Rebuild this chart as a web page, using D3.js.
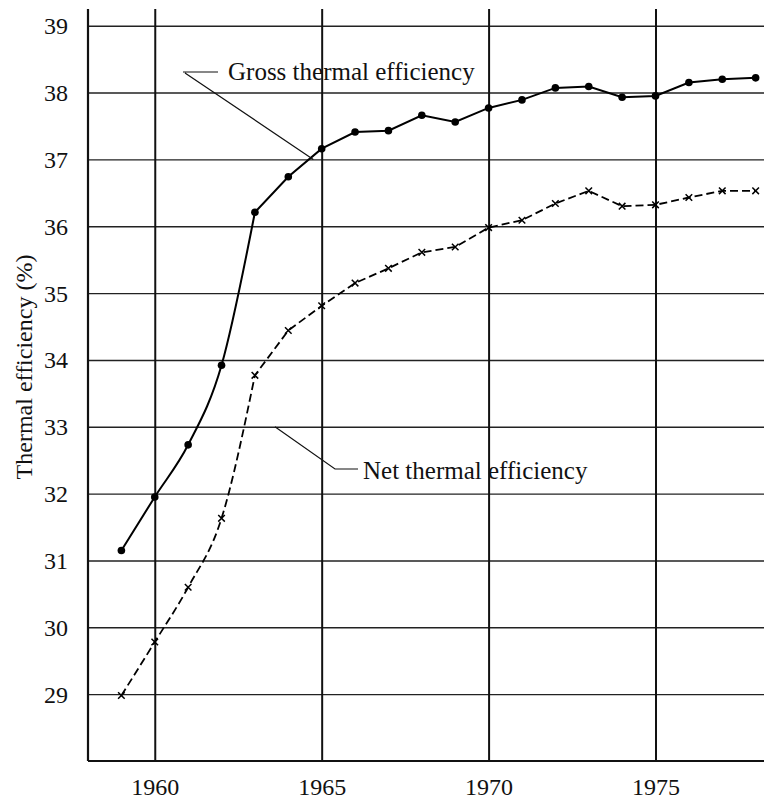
<!DOCTYPE html>
<html>
<head>
<meta charset="utf-8">
<script src="https://cdn.jsdelivr.net/npm/d3@7"></script>
<style>
  body { margin: 0; background: #fff; }
  svg { display: block; font-family: "Liberation Serif", "DejaVu Serif", serif; }
  svg text { font-family: "Liberation Serif", "DejaVu Serif", serif !important; }
  .tick text { fill: #111; }
</style>
</head>
<body>
<svg id="chart" width="764" height="802"></svg>
<script>
const years = [1959, 1960, 1961, 1962, 1963, 1964, 1965, 1966, 1967, 1968,
  1969, 1970, 1971, 1972, 1973, 1974, 1975, 1976, 1977, 1978];
const gross = [31.15, 31.95, 32.73, 33.92, 36.21, 36.74, 37.16, 37.41, 37.43, 37.66,
  37.56, 37.77, 37.89, 38.07, 38.09, 37.93, 37.95, 38.15, 38.2, 38.22];
const net = [28.98, 29.78, 30.6, 31.63, 33.77, 34.44, 34.81, 35.15, 35.37, 35.61,
  35.69, 35.98, 36.09, 36.34, 36.53, 36.3, 36.32, 36.43, 36.53, 36.53];
const yTicks = [29, 30, 31, 32, 33, 34, 35, 36, 37, 38, 39];
const xTicks = [1960, 1965, 1970, 1975];

const width = 764;
const marginLeft = 88;
const plotBottom = 761;
const plotTop = 9;
const bend = 4; // index where the steep rise ends; curve before, straight after

const svg = d3.select('#chart');

const x = d3.scaleLinear()
  .domain([1958, 1978.25])
  .range([marginLeft, width]);
const y = d3.scaleLinear()
  .domain([28, 39.25])
  .range([plotBottom, plotTop]);

// horizontal grid + y labels
const yAxis = svg.append('g')
  .attr('transform', `translate(${marginLeft}, 0)`)
  .call(d3.axisLeft(y).tickValues(yTicks).tickSize(-(width - marginLeft)).tickPadding(20).tickFormat(d3.format('d')));
yAxis.select('.domain').remove();
yAxis.selectAll('.tick line').attr('stroke', '#222').attr('stroke-width', 1.4);
yAxis.selectAll('.tick text').attr('font-size', 24).attr('dy', '0.33em');

// vertical grid + x labels
const xAxis = svg.append('g')
  .attr('transform', `translate(0, ${plotBottom})`)
  .call(d3.axisBottom(x).tickValues(xTicks).tickSize(-(plotBottom - plotTop)).tickPadding(17).tickFormat(d3.format('d')));
xAxis.select('.domain').remove();
xAxis.selectAll('.tick line').attr('stroke', '#111').attr('stroke-width', 2);
xAxis.selectAll('.tick text').attr('font-size', 24);

// axis frame
svg.append('line')
  .attr('x1', marginLeft).attr('x2', marginLeft)
  .attr('y1', plotTop).attr('y2', plotBottom)
  .attr('stroke', '#111').attr('stroke-width', 2.2);
svg.append('line')
  .attr('x1', marginLeft).attr('x2', width)
  .attr('y1', plotBottom).attr('y2', plotBottom)
  .attr('stroke', '#111').attr('stroke-width', 2.2);

// y title
svg.append('text')
  .attr('transform', `translate(32, 367) rotate(-90)`)
  .attr('text-anchor', 'middle')
  .attr('font-size', 24)
  .attr('fill', '#111')
  .text('Thermal efficiency  (%)');

const pts = (vals) => vals.map((v, i) => [x(years[i]), y(v)]);
const drawSeries = (vals, dash, w) => {
  const p = pts(vals);
  const early = d3.line().curve(d3.curveMonotoneX)(p.slice(0, bend + 1));
  const late = d3.line()(p.slice(bend));
  svg.append('path')
    .attr('d', early + late.replace(/^M/, 'L'))
    .attr('fill', 'none')
    .attr('stroke', '#000')
    .attr('stroke-width', w)
    .attr('stroke-dasharray', dash);
};
drawSeries(gross, null, 2);
drawSeries(net, '8,4', 1.8);

svg.append('g')
  .selectAll('circle')
  .data(gross)
  .enter()
  .append('circle')
  .attr('cx', (d, i) => x(years[i]))
  .attr('cy', (d) => y(d))
  .attr('r', 3.8)
  .attr('fill', '#000');

const cross = d3.symbol().type(d3.symbolX).size(30);
svg.append('g')
  .selectAll('path')
  .data(net)
  .enter()
  .append('path')
  .attr('d', cross)
  .attr('transform', (d, i) => `translate(${x(years[i])}, ${y(d)})`)
  .attr('fill', 'none')
  .attr('stroke', '#000')
  .attr('stroke-width', 1.5);

// annotations
const notes = svg.append('g').attr('fill', '#111').attr('stroke', '#111');

notes.append('path')
  .attr('d', `M183,72 L218,72 M185,73 L${x(1964.75)},${y(37.0)}`)
  .attr('fill', 'none')
  .attr('stroke-width', 1.2);
notes.append('text')
  .attr('x', 228).attr('y', 80)
  .attr('stroke', 'none')
  .attr('font-size', 25)
  .text('Gross thermal efficiency');

notes.append('path')
  .attr('d', `M358,469 L335,469 L${x(1963.6)},${y(33.0)}`)
  .attr('fill', 'none')
  .attr('stroke-width', 1.2);
notes.append('text')
  .attr('x', 363).attr('y', 479)
  .attr('stroke', 'none')
  .attr('font-size', 25)
  .text('Net thermal efficiency');
</script>
</body>
</html>
